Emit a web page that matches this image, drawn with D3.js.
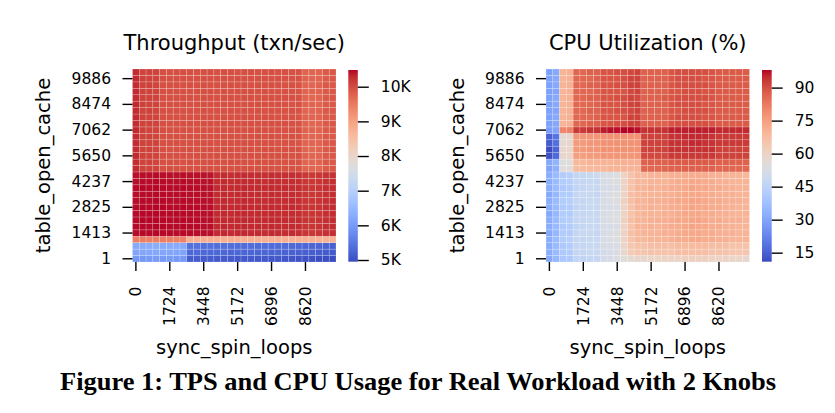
<!DOCTYPE html>
<html><head><meta charset="utf-8">
<script src="https://cdn.jsdelivr.net/npm/d3@7"></script>
<style>body{margin:0;background:#fff}svg{display:block}text{font-family:"DejaVu Sans",sans-serif;fill:#000}</style>
</head><body><svg id="c" width="835" height="413"></svg>
<script>
// ---- categories ----
const spinLoops = [0,344,689,1034,1379,1724,2068,2413,2758,3103,3448,3793,4137,4482,4827,5172,5517,5862,6206,6551,6896,7241,7586,7931,8275,8620,8965,9310,9655,10000];
const openCache = [1,354,707,1060,1413,1766,2119,2472,2825,3178,3531,3884,4237,4590,4943,5297,5650,6003,6356,6709,7062,7415,7768,8121,8474,8827,9180,9533,9886,10240];
const xTickIdx = [0,5,10,15,20,25];
const yTickIdx = [0,4,8,12,16,20,24,28];
const tpsTicks = [5000,6000,7000,8000,9000,10000];
const cpuTicks = [15,30,45,60,75,90];

// ---- throughput (txn/sec), rows from table_open_cache=1 upward ----
const tps = [
[5950,5960,5990,6010,5990,6000,5980,5970,5150,5160,5140,5150,5130,5140,5120,5130,5110,5120,5100,5110,5090,5100,5080,5060,5040,5020,5000,4980,4960,4951],
[6160,6170,6190,6200,6180,6170,6160,6150,5300,5310,5290,5300,5280,5290,5270,5280,5260,5270,5250,5260,5240,5250,5230,5220,5200,5190,5170,5160,5140,5120],
[6240,6250,6270,6280,6260,6250,6240,6230,5400,5410,5390,5400,5380,5390,5370,5380,5360,5370,5350,5360,5340,5350,5330,5320,5300,5290,5270,5260,5240,5220],
[9440,9460,9450,9470,9450,9440,9430,9420,8810,8800,8820,8810,8800,8790,8810,8800,8790,8800,8780,8790,8800,8790,8780,8770,8790,8800,8780,8770,8760,8750],
[10440,10460,10450,10470,10460,10450,10440,10460,10450,10440,10430,10420,10290,10300,10280,10290,10300,10290,10280,10270,10290,10280,10270,10280,10260,10200,10190,10210,10250,10260],
[10450,10470,10460,10480,10470,10460,10450,10470,10460,10450,10440,10430,10300,10310,10290,10300,10310,10300,10290,10280,10300,10290,10280,10290,10270,10210,10200,10220,10260,10270],
[10460,10482,10470,10480,10470,10460,10460,10470,10460,10450,10440,10430,10300,10300,10290,10300,10310,10300,10290,10290,10300,10290,10290,10280,10270,10210,10200,10210,10260,10270],
[10450,10470,10460,10470,10460,10450,10450,10460,10450,10440,10430,10420,10290,10300,10280,10290,10300,10290,10280,10280,10290,10280,10280,10270,10260,10200,10190,10200,10250,10260],
[10450,10470,10460,10480,10470,10460,10450,10470,10460,10450,10440,10430,10300,10310,10290,10300,10310,10300,10290,10280,10300,10290,10280,10290,10270,10210,10200,10220,10260,10270],
[10440,10460,10450,10470,10460,10450,10440,10460,10450,10440,10430,10420,10290,10300,10280,10290,10300,10290,10280,10270,10290,10280,10270,10280,10260,10200,10190,10210,10250,10260],
[10430,10450,10440,10460,10450,10440,10430,10450,10440,10430,10420,10410,10280,10290,10270,10280,10290,10280,10270,10260,10280,10270,10260,10270,10250,10190,10180,10200,10240,10250],
[10450,10470,10460,10470,10460,10450,10450,10460,10450,10440,10430,10420,10290,10300,10280,10290,10300,10290,10280,10280,10290,10280,10280,10270,10260,10200,10190,10200,10250,10260],
[10430,10450,10440,10460,10450,10440,10430,10450,10440,10430,10420,10410,10280,10290,10270,10280,10290,10280,10270,10260,10280,10270,10260,10270,10250,10190,10180,10200,10240,10250],
[10420,10440,10430,10450,10440,10430,10420,10440,10430,10420,10410,10400,10270,10280,10260,10270,10280,10270,10260,10250,10270,10260,10250,10260,10240,10180,10170,10190,10230,10240],
[10290,10100,10090,10080,9970,9960,9970,9960,9950,9960,9970,9960,9950,9960,9950,9960,9970,9960,9950,9960,9950,9940,9950,9940,9930,9760,9740,9750,9870,9880],
[10280,10090,10100,10070,9960,9970,9960,9950,9960,9950,9960,9950,9960,9950,9960,9950,9960,9950,9960,9950,9960,9950,9940,9950,9940,9750,9730,9760,9880,9870],
[10300,10110,10090,10080,9980,9960,9970,9960,9950,9970,9960,9950,9960,9970,9950,9960,9950,9960,9970,9960,9950,9960,9950,9940,9950,9770,9740,9750,9860,9880],
[10270,10080,10100,10090,9970,9950,9960,9970,9960,9950,9960,9970,9950,9960,9970,9950,9960,9970,9950,9960,9970,9950,9960,9950,9940,9760,9720,9740,9870,9890],
[10290,10100,10090,10080,9970,9960,9970,9960,9950,9960,9970,9960,9950,9960,9950,9960,9970,9960,9950,9960,9950,9940,9950,9940,9930,9760,9740,9750,9870,9880],
[10280,10090,10100,10070,9960,9970,9960,9950,9960,9950,9960,9950,9960,9950,9960,9950,9960,9950,9960,9950,9960,9950,9940,9950,9940,9750,9730,9760,9880,9870],
[10300,10110,10090,10080,9980,9960,9970,9960,9950,9970,9960,9950,9960,9970,9950,9960,9950,9960,9970,9960,9950,9960,9950,9940,9950,9770,9740,9750,9860,9880],
[10270,10080,10100,10090,9970,9950,9960,9970,9960,9950,9960,9970,9950,9960,9970,9950,9960,9970,9950,9960,9970,9950,9960,9950,9940,9760,9720,9740,9870,9890],
[10290,10100,10090,10080,9970,9960,9970,9960,9950,9960,9970,9960,9950,9960,9950,9960,9970,9960,9950,9960,9950,9940,9950,9940,9930,9760,9740,9750,9870,9880],
[10280,10090,10100,10070,9960,9970,9960,9950,9960,9950,9960,9950,9960,9950,9960,9950,9960,9950,9960,9950,9960,9950,9940,9950,9940,9750,9730,9760,9880,9870],
[10300,10110,10090,10080,9980,9960,9970,9960,9950,9970,9960,9950,9960,9970,9950,9960,9950,9960,9970,9960,9950,9960,9950,9940,9950,9770,9740,9750,9860,9880],
[10270,10080,10100,10090,9970,9950,9960,9970,9960,9950,9960,9970,9950,9960,9970,9950,9960,9970,9950,9960,9970,9950,9960,9950,9940,9760,9720,9740,9870,9890],
[10290,10100,10090,10080,9970,9960,9970,9960,9950,9960,9970,9960,9950,9960,9950,9960,9970,9960,9950,9960,9950,9940,9950,9940,9930,9760,9740,9750,9870,9880],
[10280,10090,10100,10070,9960,9970,9960,9950,9960,9950,9960,9950,9960,9950,9960,9950,9960,9950,9960,9950,9960,9950,9940,9950,9940,9750,9730,9760,9880,9870],
[10300,10110,10090,10080,9980,9960,9970,9960,9950,9970,9960,9950,9960,9970,9950,9960,9950,9960,9970,9960,9950,9960,9950,9940,9950,9770,9740,9750,9860,9880],
[10280,10090,10100,10090,9970,9950,9960,9970,9960,9950,9960,9970,9950,9960,9970,9950,9960,9970,9950,9960,9970,9950,9960,9950,9940,9760,9730,9740,9870,9880]
];

// ---- CPU utilization (%), rows from table_open_cache=1 upward ----
const cpu = [
[31,35,40,41,46,46,47,47,51,52,53,55,57,58,58,59,59,60,60,60,61,61,61,61,60,60,60,59,59,58],
[32,36,41,42,47,47,48,48,51,52,53,58,63,65,65,66,66,66,66,67,67,67,67,67,66,66,66,65,65,65],
[32,36,41,42,47,47,48,48,52,52,53,59,64,66,66,67,67,67,67,68,68,68,68,68,67,67,67,66,66,66],
[32,36,42,43,47,47,48,48,52,53,54,60,66,69,69,70,70,70,71,72,72,73,73,72,72,71,71,70,70,70],
[31,35,42,42,47,48,48,47,52,53,54,60,67,69,70,70,70,71,71,72,73,73,73,72,72,71,71,71,70,70],
[32,36,41,42,46,47,48,48,52,52,53,60,66,70,70,71,70,71,72,72,73,74,73,73,72,72,71,71,70,70],
[32,36,42,43,47,47,48,48,52,53,54,61,67,70,70,71,71,71,72,73,73,74,74,73,72,72,71,71,71,70],
[31,35,42,42,47,47,48,48,52,53,54,60,66,69,70,70,70,71,71,72,73,73,73,72,72,71,71,70,70,70],
[32,36,41,42,46,47,48,48,52,52,53,60,66,70,70,71,70,71,72,72,73,74,73,73,72,72,71,71,70,70],
[32,36,42,43,47,47,48,48,52,53,54,61,67,70,70,71,71,71,72,73,73,74,74,73,72,72,71,71,71,70],
[31,35,42,42,47,48,48,47,52,53,54,60,67,69,70,70,70,71,71,72,73,73,73,72,72,71,71,71,70,70],
[32,36,41,42,46,47,48,48,52,52,53,60,66,70,70,71,70,71,72,72,73,74,73,73,72,72,71,71,70,70],
[32,36,42,43,47,47,48,48,52,53,54,60,66,69,69,70,70,70,71,72,72,73,73,72,72,71,71,70,70,70],
[32,36,42,43,47,47,48,49,52,53,54,60,66,69,69,70,70,70,71,71,72,72,72,72,71,71,70,70,70,69],
[30,33,55,56,68,68,69,69,69,70,70,70,70,70,86,86,86,86,87,87,87,87,87,87,87,86,86,86,86,86],
[31,34,54,55,69,69,70,70,70,70,71,71,71,71,87,87,87,87,88,88,88,88,88,88,88,87,87,87,87,87],
[12,17,58,59,75,75,76,76,77,77,77,77,77,77,91,91,91,91,93,93,93,93,93,93,93,92,92,92,92,92],
[10.9,16,58,59,76,76,77,77,78,78,78,78,78,78,92,92,92,92,94,94,94,94,94,94,94,92,92,92,92,92],
[14,18,57,58,76,76,77,77,78,78,78,78,78,78,92,92,92,92,94,94,94,95,95,94,94,93,93,93,93,93],
[15,19,57,58,77,77,77,77,78,78,78,78,78,78,92,92,92,92,94,94,95,95,95,95,94,93,93,93,93,93],
[28,30,80,81,93,93,94,94,96,97,97,98,98,97,94,94,94,94,96,96,96,96,96,96,96,95,95,95,95,95],
[29,31,70,71,86,86,87,87,89,89,90,90,92,92,87,87,87,87,89,90,90,90,90,90,89,88,88,88,88,88],
[29,31,70,71,86,86,86,87,89,89,89,89,92,92,87,87,87,87,89,90,90,90,90,89,89,88,88,88,88,88],
[29,30,70,71,86,86,87,87,89,89,90,90,91,92,87,87,87,87,89,89,90,90,90,90,89,88,88,88,88,88],
[29,31,70,71,86,86,86,87,89,89,89,90,92,92,87,87,87,87,89,90,90,90,90,89,89,88,88,88,88,88],
[29,31,70,71,86,86,87,87,89,89,90,90,92,91,87,87,87,88,89,90,90,90,90,90,89,88,88,88,88,88],
[29,30,70,71,86,86,86,87,89,89,89,89,91,92,87,87,87,87,89,89,90,90,90,89,89,88,88,88,88,88],
[29,31,70,71,86,86,87,87,89,89,90,90,92,92,87,87,87,87,89,90,90,90,90,90,89,88,88,88,88,88],
[29,31,70,71,86,86,86,87,89,89,89,90,92,92,87,87,87,87,89,90,90,90,90,89,89,88,88,88,88,88],
[29,31,70,71,86,86,87,87,89,89,90,90,91,92,87,87,87,87,89,90,90,90,90,90,89,88,88,88,88,88]
];

// ---- coolwarm colormap ----
const cwStops = [[59,76,192],[68,90,204],[77,104,215],[87,117,225],[98,130,234],[108,142,241],[119,154,247],[130,165,251],[141,176,254],[152,185,255],[163,194,255],[174,201,253],[184,208,249],[194,213,244],[204,217,238],[213,219,230],[221,221,221],[229,216,209],[236,211,197],[241,204,185],[245,196,173],[247,187,160],[247,177,148],[247,166,135],[244,154,123],[241,141,111],[236,127,99],[229,112,88],[222,96,77],[213,80,66],[203,62,56],[192,40,47],[180,4,38]];
const cool = d3.scaleLinear()
  .domain(cwStops.map((_, i) => i / (cwStops.length - 1)))
  .range(cwStops.map(c => d3.rgb(c[0], c[1], c[2]).toString()))
  .interpolate(d3.interpolateRgb).clamp(true);

const svg = d3.select("#c");
const defs = svg.append("defs");
const FONT = "DejaVu Sans";

function panel(cfg) {
  const { x0, x1, y0, y1, grid, title, cbX, cbW, cbTicks, fmt, id } = cfg;
  const x = d3.scaleBand().domain(d3.range(spinLoops.length)).range([x0, x1]);
  const y = d3.scaleBand().domain(d3.range(openCache.length).reverse()).range([y0, y1]);
  const ext = d3.extent(grid.flat());
  const norm = d3.scaleLinear().domain(ext).range([0, 1]);

  const cells = grid.flatMap((row, r) => row.map((v, c) => ({ r, c, v })));
  svg.append("g").selectAll("rect").data(cells).join("rect")
    .attr("x", d => x(d.c)).attr("y", d => y(d.r))
    .attr("width", x.bandwidth()).attr("height", y.bandwidth())
    .attr("fill", d => cool(norm(d.v)))
    .attr("stroke", "#fff").attr("stroke-opacity", 0.3).attr("stroke-width", 0.6);

  // x axis
  const gx = svg.append("g").attr("transform", `translate(0,${y1})`)
    .call(d3.axisBottom(x).tickValues(xTickIdx).tickFormat(i => spinLoops[i]).tickSize(9));
  gx.select(".domain").remove();
  gx.attr("font-family", FONT).attr("font-size", 15.5);
  gx.selectAll("line").attr("stroke", "#000").attr("stroke-width", 1.4);
  gx.selectAll("text").attr("x", 0).attr("y", 0).attr("dy", "0.35em")
    .attr("transform", "translate(0,24.5) rotate(-90)").attr("text-anchor", "end").attr("fill", "#000");

  // y axis
  const gy = svg.append("g").attr("transform", `translate(${x0},0)`)
    .call(d3.axisLeft(y).tickValues(yTickIdx).tickFormat(i => openCache[i]).tickSize(10).tickPadding(11.5));
  gy.select(".domain").remove();
  gy.attr("font-family", FONT).attr("font-size", 15.5);
  gy.selectAll("line").attr("stroke", "#000").attr("stroke-width", 1.4);
  gy.selectAll("text").attr("fill", "#000");

  // labels
  const cx = (x0 + x1) / 2;
  svg.append("text").attr("x", cx).attr("y", 49.5).attr("text-anchor", "middle")
    .style("font-size", "21px").text(title);
  svg.append("text").attr("x", cx).attr("y", 353.5).attr("text-anchor", "middle")
    .style("font-size", "19.5px").text("sync_spin_loops");
  svg.append("text").attr("transform", `translate(${x0 - 82.5},${(y0 + y1) / 2}) rotate(-90)`)
    .attr("text-anchor", "middle").style("font-size", "19.5px").text("table_open_cache");

  // colorbar
  const cbTop = 70, cbBot = 261.7;
  const grad = defs.append("linearGradient").attr("id", id)
    .attr("x1", 0).attr("y1", 1).attr("x2", 0).attr("y2", 0);
  cwStops.forEach((c, i) => grad.append("stop")
    .attr("offset", i / (cwStops.length - 1)).attr("stop-color", `rgb(${c[0]},${c[1]},${c[2]})`));
  svg.append("rect").attr("x", cbX).attr("y", cbTop).attr("width", cbW).attr("height", cbBot - cbTop)
    .attr("fill", `url(#${id})`);
  const cs = d3.scaleLinear().domain(ext).range([cbBot, cbTop]);
  const gc = svg.append("g").attr("transform", `translate(${cbX + cbW},0)`)
    .call(d3.axisRight(cs).tickValues(cbTicks).tickFormat(fmt).tickSize(11).tickPadding(12));
  gc.select(".domain").remove();
  gc.attr("font-family", FONT).attr("font-size", 15.5);
  gc.selectAll("line").attr("stroke", "#000").attr("stroke-width", 1.4);
  gc.selectAll("text").attr("fill", "#000");
}

panel({ x0: 132.5, x1: 336, y0: 69, y1: 262, grid: tps, title: "Throughput (txn/sec)",
  cbX: 348.3, cbW: 9.5, cbTicks: tpsTicks, fmt: d => (d / 1000) + "K", id: "g1" });
panel({ x0: 546, x1: 749.5, y0: 69, y1: 262, grid: cpu, title: "CPU Utilization (%)",
  cbX: 762, cbW: 9.7, cbTicks: cpuTicks, fmt: d => d, id: "g2" });

svg.append("text").attr("x", 418).attr("y", 390).attr("text-anchor", "middle")
  .attr("textLength", 716).attr("lengthAdjust", "spacingAndGlyphs")
  .style("font-family", "'Liberation Serif', serif").style("font-weight", "bold").style("font-size", "25px")
  .text("Figure 1: TPS and CPU Usage for Real Workload with 2 Knobs");
</script></body></html>
